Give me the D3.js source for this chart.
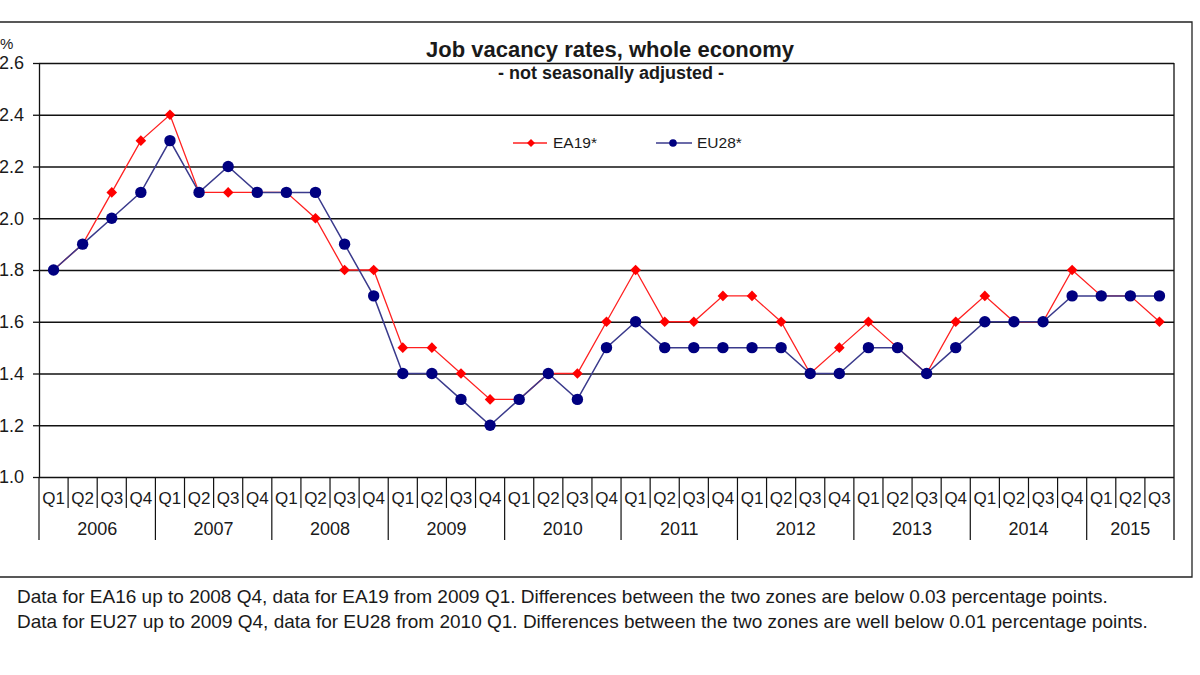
<!DOCTYPE html>
<html>
<head>
<meta charset="utf-8">
<script src="https://cdn.jsdelivr.net/npm/d3@7"></script>
<style>
  body { margin: 0; background: #fff; }
  text { font-family: "Liberation Sans", Arial, sans-serif; fill: #1a1a1a; }
</style>
</head>
<body>
<svg id="chart" width="1200" height="675"></svg>
<script>
// years and quarters on the x axis
var years = ["2006","2007","2008","2009","2010","2011","2012","2013","2014","2015"]
var quarters = ["Q1","Q2","Q3","Q4"]
// series, one value per quarter from 2006 Q1 to 2015 Q3
var ea19 = [1.8,1.9,2.1,2.3, 2.4,2.1,2.1,2.1, 2.1,2.0,1.8,1.8, 1.5,1.5,1.4,1.3,
            1.3,1.4,1.4,1.6, 1.8,1.6,1.6,1.7, 1.7,1.6,1.4,1.5, 1.6,1.5,1.4,1.6,
            1.7,1.6,1.6,1.8, 1.7,1.7,1.6]
var eu28 = [1.8,1.9,2.0,2.1, 2.3,2.1,2.2,2.1, 2.1,2.1,1.9,1.7, 1.4,1.4,1.3,1.2,
            1.3,1.4,1.3,1.5, 1.6,1.5,1.5,1.5, 1.5,1.5,1.4,1.4, 1.5,1.5,1.4,1.5,
            1.6,1.6,1.6,1.7, 1.7,1.7,1.7]
var yTicks = [1.0,1.2,1.4,1.6,1.8,2.0,2.2,2.4,2.6]
var footnotes = [
  "Data for EA16 up to 2008 Q4, data for EA19 from 2009 Q1. Differences between the two zones are below 0.03 percentage points.",
  "Data for EU27 up to 2009 Q4, data for EU28 from 2010 Q1. Differences between the two zones are well below 0.01 percentage points."
]

// build category list year-quarter
var cats = []
years.forEach(function(y) {
  quarters.forEach(function(q) { cats.push({year: y, q: q, key: y + q}) })
})
cats = cats.slice(0, ea19.length)

var svg = d3.select("#chart")
var pl = 39, pr = 1174, pt = 63, pb = 477

var x = d3.scaleBand().domain(cats.map(function(d) { return d.key })).range([pl, pr]).padding(0)
var y = d3.scaleLinear().domain([1.0, 2.6]).range([pb, pt])
var cx = function(i) { return x(cats[i].key) + x.bandwidth() / 2 }

// outer frame
svg.append("path").attr("d", "M-2,22H1192V577H-2")
  .attr("fill", "none").attr("stroke", "#222").attr("stroke-width", 1.3)

// gridlines
svg.append("g").attr("transform", "translate(" + pl + ",0)")
  .call(d3.axisLeft(y).tickValues(yTicks).tickSize(-(pr - pl)).tickFormat(""))
  .call(function(g) { g.select(".domain").remove() })
  .selectAll("line").attr("stroke", "#111").attr("stroke-width", 1.3)

// y axis with labels
var yAxis = svg.append("g").attr("transform", "translate(" + pl + ",0)")
  .call(d3.axisLeft(y).tickValues(yTicks).tickSize(6).tickSizeOuter(0).tickPadding(9).tickFormat(d3.format(".1f")))
yAxis.select(".domain").attr("stroke", "#111").attr("stroke-width", 1.3)
yAxis.selectAll("line").attr("stroke", "#111").attr("stroke-width", 1.3)
yAxis.selectAll("text").attr("font-size", 18).attr("fill", "#1a1a1a")
  .style("font-family", "'Liberation Sans', Arial, sans-serif")

svg.append("text").attr("x", 0).attr("y", 49).attr("font-size", 15).text("%")

// right border of plot
svg.append("line").attr("x1", pr).attr("x2", pr).attr("y1", pt).attr("y2", 540)
  .attr("stroke", "#111").attr("stroke-width", 1.3)

// quarter separators and labels
var xa = svg.append("g")
xa.selectAll("line.q").data(cats).enter().append("line")
  .attr("x1", function(d) { return x(d.key) }).attr("x2", function(d) { return x(d.key) })
  .attr("y1", pb).attr("y2", function(d) { return d.q == "Q1" ? 540 : 508 })
  .attr("stroke", "#111").attr("stroke-width", 1.2)
xa.selectAll("text.q").data(cats).enter().append("text")
  .attr("x", function(d) { return x(d.key) + x.bandwidth() / 2 }).attr("y", 504)
  .attr("text-anchor", "middle").attr("font-size", 17).text(function(d) { return d.q })
// year labels centered on their quarters
xa.selectAll("text.y").data(years).enter().append("text")
  .attr("x", function(yr) {
    var ks = cats.filter(function(c) { return c.year == yr })
    return (x(ks[0].key) + x(ks[ks.length - 1].key) + x.bandwidth()) / 2
  })
  .attr("y", 535).attr("text-anchor", "middle").attr("font-size", 18).text(function(d) { return d })

// lines
var line = d3.line().x(function(d, i) { return cx(i) }).y(function(d) { return y(d) })
svg.append("path").datum(ea19).attr("d", line).attr("fill", "none").attr("stroke", "#ff2020").attr("stroke-width", 1.3)
svg.append("path").datum(eu28).attr("d", line).attr("fill", "none").attr("stroke", "#3a3a8c").attr("stroke-width", 1.5)

var diamond = d3.symbol().type(d3.symbolDiamond2).size(72)
svg.append("g").selectAll("path").data(ea19).enter().append("path")
  .attr("d", diamond)
  .attr("transform", function(d, i) { return "translate(" + cx(i) + "," + y(d) + ")" })
  .attr("fill", "#ff0000")
svg.append("g").selectAll("circle").data(eu28).enter().append("circle")
  .attr("cx", function(d, i) { return cx(i) }).attr("cy", function(d) { return y(d) })
  .attr("r", 5.7).attr("fill", "#000080")

// title
svg.append("text").attr("x", 610).attr("y", 57).attr("text-anchor", "middle")
  .attr("font-size", 22).attr("font-weight", "bold").text("Job vacancy rates, whole economy")
svg.append("text").attr("x", 611).attr("y", 79).attr("text-anchor", "middle")
  .attr("font-size", 18).attr("font-weight", "bold").text("- not seasonally adjusted -")

// legend
var leg = svg.append("g")
leg.append("line").attr("x1", 513).attr("x2", 547).attr("y1", 143).attr("y2", 143).attr("stroke", "#ff2020").attr("stroke-width", 1.3)
leg.append("path").attr("d", d3.symbol().type(d3.symbolDiamond2).size(40)).attr("transform", "translate(531,143)").attr("fill", "#ff0000")
leg.append("text").attr("x", 553).attr("y", 148).attr("font-size", 15.5).text("EA19*")
leg.append("line").attr("x1", 656).attr("x2", 692).attr("y1", 143).attr("y2", 143).attr("stroke", "#3a3a8c").attr("stroke-width", 1.3)
leg.append("circle").attr("cx", 673).attr("cy", 143).attr("r", 3.8).attr("fill", "#000080")
leg.append("text").attr("x", 697).attr("y", 148).attr("font-size", 15.5).text("EU28*")

// footnotes
svg.selectAll("text.note").data(footnotes).enter().append("text")
  .attr("x", 17).attr("y", function(d, i) { return 603 + i * 25 })
  .attr("font-size", 19).text(function(d) { return d })
</script>
</body>
</html>
